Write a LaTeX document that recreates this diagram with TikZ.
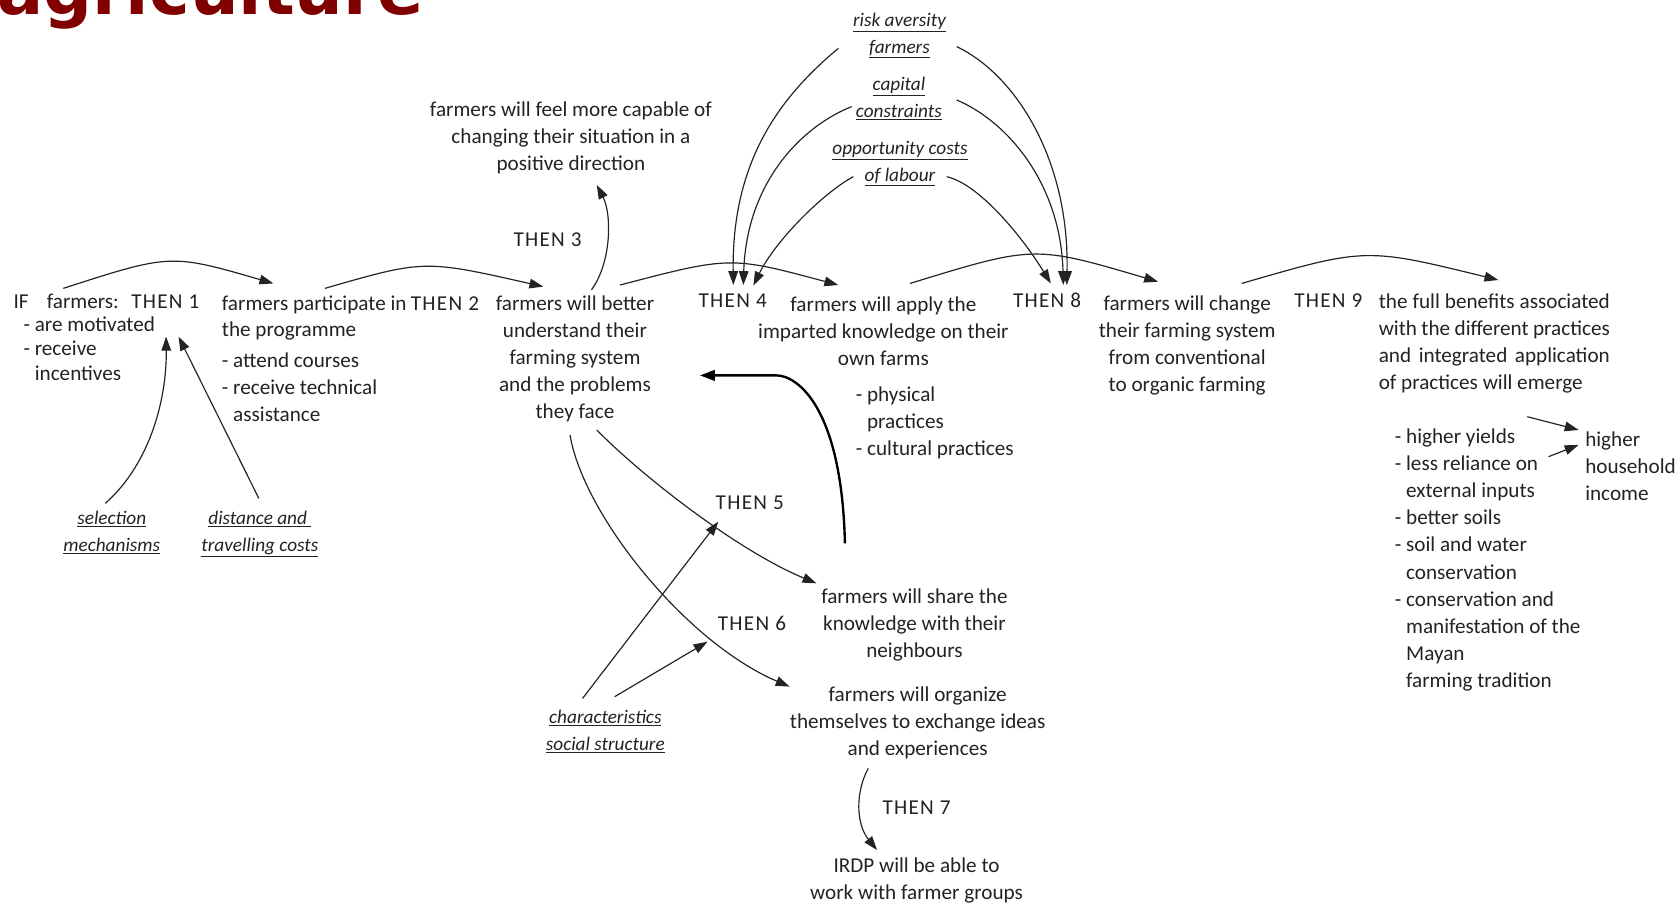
\documentclass[tikz,border=0pt]{standalone}
\usepackage{fontspec}
\setmainfont{Carlito}
\newfontfamily\headfont{DejaVu Sans}
\newfontfamily\stepfont[LetterSpace=6]{Carlito}
\usetikzlibrary{arrows.meta}
\definecolor{headred}{RGB}{128,0,0}
\definecolor{ink}{RGB}{35,35,35}

\begin{document}
\begin{tikzpicture}[x=1pt,y=-1pt,
  txt/.style={inner sep=0pt, text=ink, font=\fontsize{19.8}{25.3}\selectfont},
  steplbl/.style={inner sep=0pt, text=ink, anchor=base west, font=\stepfont\fontsize{19.8}{25.3}\selectfont},
  lbl/.style={inner sep=0pt, text=ink, font=\itshape\fontsize{18}{25.5}\selectfont, align=center, anchor=base},
  link/.style={draw=ink, line width=1.1pt, -{Triangle[length=13pt,width=9pt]}},
  heavy/.style={draw=black, line width=2.2pt, -{Triangle[length=14pt,width=10pt]}}]

\fill[white] (0,0) rectangle (1568,846);
\useasboundingbox (0,0) rectangle (1568,846);

% heading, cut by the top edge
\node[anchor=base west, inner sep=0pt, text=headred, font=\headfont\bfseries\fontsize{64}{70}\selectfont] (head) at (-3,14) {agriculture};

% main chain of statements (multi-line nodes sit on the baseline of their last line)
\node[txt, anchor=base west] (ifw) at (12.5,288) {IF};
\node[txt, anchor=base west] (ifwho) at (43.6,288) {farmers:};
\node[steplbl] (then1) at (122.6,288) {THEN 1};
\node[txt, anchor=base west, align=left, font=\fontsize{19.8}{23}\selectfont] (ifconds) at (21.8,355.5) {- are motivated\\- receive\\\phantom{- }incentives};

\node[txt, anchor=base west, align=left, font=\fontsize{19.8}{23.7}\selectfont] (join) at (207.3,314.2) {farmers participate in\\the programme};
\node[steplbl] (then2) at (384,290.5) {THEN 2};
\node[txt, anchor=base west, align=left, font=\fontsize{19.8}{25.4}\selectfont] (joinacts) at (207.3,394.3) {- attend courses\\- receive technical\\\phantom{- }assistance};

\node[txt, align=center, anchor=base] (grasp) at (537.6,391.2) {farmers will better\\understand their\\farming system\\and the problems\\they face};
\node[txt, align=center, anchor=base] (capable) at (533.8,159.1) {farmers will feel more capable of\\changing their situation in a\\positive direction};
\node[steplbl] (then3) at (480,230.6) {THEN 3};

\node[steplbl] (then4) at (653,287.5) {THEN 4};
\node[txt, align=center, anchor=base] (apply) at (826,342.1) {farmers will apply the\\imparted knowledge on their\\own farms};
\node[txt, anchor=base west, align=left] (applykinds) at (800,426.1) {- physical\\\phantom{- }practices\\- cultural practices};

\node[steplbl] (then8) at (947,287.5) {THEN 8};
\node[txt, align=center, anchor=base] (convert) at (1110,366.4) {farmers will change\\their farming system\\from conventional\\to organic farming};

\node[steplbl] (then9) at (1210,287.5) {THEN 9};
\node[txt, anchor=base west, align=left] (benefits) at (1289,364.4) {\makebox[216pt][s]{the full benefits associated}\\\makebox[216pt][s]{with the different practices}\\\makebox[216pt][s]{and integrated application}\\of practices will emerge};
\node[txt, anchor=base west, align=left, font=\fontsize{19.8}{25.4}\selectfont] (gains) at (1304,643.1) {- higher yields\\- less reliance on\\\phantom{- }external inputs\\- better soils\\- soil and water\\\phantom{- }conservation\\- conservation and\\\phantom{- }manifestation of the\\\phantom{- }Mayan\\\phantom{- }farming tradition};
\node[txt, anchor=base west, align=left] (income) at (1482,468.1) {higher\\household\\income};

\node[steplbl] (then5) at (669,476.5) {THEN 5};
\node[steplbl] (then6) at (671,589.5) {THEN 6};
\node[txt, align=center, anchor=base] (share) at (855,615.1) {farmers will share the\\knowledge with their\\neighbours};
\node[txt, align=center, anchor=base] (organize) at (858,706.1) {farmers will organize\\themselves to exchange ideas\\and experiences};
\node[steplbl] (then7) at (825,761.5) {THEN 7};
\node[txt, align=center, anchor=base] (irdp) at (857,840.8) {IRDP will be able to\\work with farmer groups};

% influencing factors
\node[lbl] (risk) at (841,50) {\underline{risk aversity}\\\underline{farmers}};
\node[lbl] (capital) at (840.5,110) {\underline{capital}\\\underline{constraints}};
\node[lbl] (labour) at (841.5,170) {\underline{opportunity costs}\\\underline{of labour}};
\node[lbl] (select) at (104.5,516) {\underline{selection}\\\underline{mechanisms}};
\node[lbl] (distance) at (243,516) {\underline{distance and }\\\underline{travelling costs}};
\node[lbl] (social) at (566,702) {\underline{characteristics}\\\underline{social structure}};

% connector end points
\coordinate (ifOut) at (59.2,269.6);        \coordinate (joinIn) at (255.6,265);
\coordinate (joinOut) at (303.9,269.6);     \coordinate (graspIn) at (508,268);
\coordinate (graspOut) at (579.7,266.5);    \coordinate (applyIn) at (783.8,266.5);
\coordinate (applyOut) at (850.9,265);      \coordinate (convertIn) at (1082.8,263.4);
\coordinate (convertOut) at (1161,265);     \coordinate (benefitsIn) at (1401,261.8);
\coordinate (graspUp) at (553,271);         \coordinate (capableIn) at (558,173);
\coordinate (riskL) at (783.9,45.2);        \coordinate (then4a) at (685.7,266.5);
\coordinate (capitalL) at (796.3,99.7);     \coordinate (then4b) at (695,266.5);
\coordinate (labourL) at (797.9,165.2);     \coordinate (then4c) at (704.4,267);
\coordinate (riskR) at (894.5,43.6);        \coordinate (then8a) at (997.4,266.5);
\coordinate (capitalR) at (894.5,93.5);     \coordinate (then8b) at (994.2,266.5);
\coordinate (labourR) at (885.2,165.2);     \coordinate (then8c) at (982.5,265);
\coordinate (selectUp) at (98.5,470.6);     \coordinate (ifIn1) at (155.3,314.8);
\coordinate (distanceUp) at (242,466);      \coordinate (ifIn2) at (167,314.8);
\coordinate (graspDown1) at (558,402);      \coordinate (shareIn) at (763.4,545.4);
\coordinate (graspDown2) at (533,406.7);    \coordinate (organizeIn) at (738.3,642);
\coordinate (socialUp1) at (544.7,653);     \coordinate (then5In) at (671.5,487.8);
\coordinate (socialUp2) at (574.7,651.4);   \coordinate (then6In) at (661.5,600);
\coordinate (organizeOut) at (811.8,718.4); \coordinate (irdpIn) at (820,794.8);
\coordinate (shareBack) at (790,508);       \coordinate (graspBack) at (654.5,351);
\coordinate (gainsOut1) at (1428,389.6);    \coordinate (incomeIn1) at (1476,402);
\coordinate (gainsOut2) at (1447.8,427);    \coordinate (incomeIn2) at (1476,416);

% chain arcs
\draw[link] (ifOut) .. controls (159.5,237.2) .. (joinIn);
\draw[link] (joinOut) .. controls (396.7,242.8) .. (graspIn);
\draw[link] (graspOut) .. controls (682.9,239.5) .. (applyIn);
\draw[link] (applyOut) .. controls (967,229.3) .. (convertIn);
\draw[link] (convertOut) .. controls (1276.9,231.4) .. (benefitsIn);
\draw[link] (graspUp) .. controls (572,245) and (572,200) .. (capableIn);

% constraints on applying and changing
\draw[link] (riskL) .. controls (730,90) and (684,150) .. (then4a);
\draw[link] (capitalL) .. controls (750,118) and (698,170) .. (then4b);
\draw[link] (labourL) .. controls (770,180) and (725,225) .. (then4c);
\draw[link] (riskR) .. controls (950,70) and (1000,150) .. (then8a);
\draw[link] (capitalR) .. controls (945,115) and (992,175) .. (then8b);
\draw[link] (labourR) .. controls (915,172) and (955,220) .. (then8c);

% factors on participation
\draw[link] (selectUp) .. controls (142,432) and (156,370) .. (ifIn1);
\draw[link] (distanceUp) -- (ifIn2);

% sharing and organising
\draw[link] (graspDown1) .. controls (600,445) and (690,515) .. (shareIn);
\draw[link] (graspDown2) .. controls (545,480) and (640,600) .. (organizeIn);
\draw[link] (socialUp1) -- (then5In);
\draw[link] (socialUp2) -- (then6In);
\draw[link] (organizeOut) .. controls (800,740) and (800,770) .. (irdpIn);

% feedback from sharing to understanding
\draw[heavy] (shareBack) .. controls (787,380) and (745,351) .. (726,351) -- (graspBack);

% outcomes to income
\draw[link] (gainsOut1) -- (incomeIn1);
\draw[link] (gainsOut2) -- (incomeIn2);
\end{tikzpicture}
\end{document}
